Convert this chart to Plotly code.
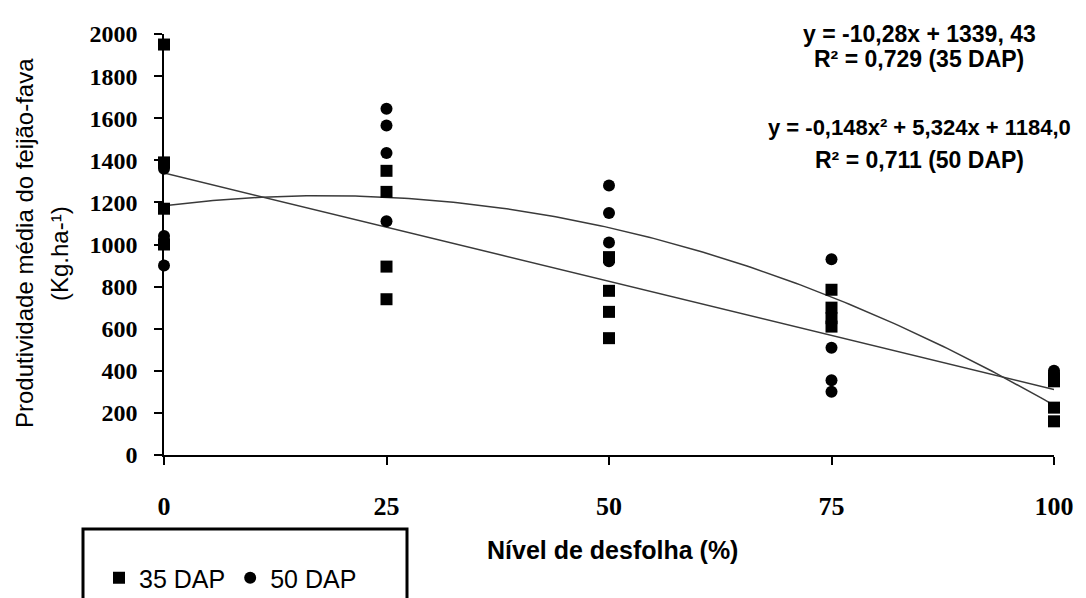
import numpy as np
import plotly.graph_objects as go

# ---- data ----
x_levels = [0, 25, 50, 75, 100]
dap35_x = [0, 0, 0, 0, 25, 25, 25, 25, 50, 50, 50, 50, 75, 75, 75, 75, 100, 100, 100, 100]
dap35_y = [1950, 1390, 1170, 1000, 1350, 1250, 895, 740, 940, 780, 680, 555, 785, 700, 650, 610, 360, 350, 225, 160]
dap50_x = [0, 0, 0, 0, 25, 25, 25, 25, 50, 50, 50, 50, 75, 75, 75, 75, 100, 100, 100, 100]
dap50_y = [1360, 1040, 1020, 900, 1645, 1565, 1435, 1110, 1280, 1150, 1010, 920, 930, 510, 355, 300, 400, 390, 380, 370]

# printed trendline coefficients
lin35 = [-10.28, 1339.43]          # y = a x + b
quad50 = [-0.148, 5.324, 1184.0]   # y = a x^2 + b x + c

y_ticks = [0, 200, 400, 600, 800, 1000, 1200, 1400, 1600, 1800, 2000]
x_ticks = [0, 25, 50, 75, 100]

eq35 = ["y = -10,28x + 1339, 43", "R² = 0,729 (35 DAP)"]
eq50 = ["y = -0,148x² + 5,324x + 1184,0", "R² = 0,711 (50 DAP)"]

xf = np.linspace(0, 100, 201)

fig = go.Figure()
fig.add_trace(go.Scatter(x=xf, y=np.polyval(lin35, xf), mode="lines",
                         line=dict(color="#3a3a3a", width=1.5), showlegend=False, hoverinfo="skip"))
fig.add_trace(go.Scatter(x=xf, y=np.polyval(quad50, xf), mode="lines",
                         line=dict(color="#3a3a3a", width=1.5), showlegend=False, hoverinfo="skip"))
fig.add_trace(go.Scatter(x=dap35_x, y=dap35_y, mode="markers", name="35 DAP",
                         marker=dict(symbol="square", size=12, color="black"), cliponaxis=False))
fig.add_trace(go.Scatter(x=dap50_x, y=dap50_y, mode="markers", name="50 DAP",
                         marker=dict(symbol="circle", size=12, color="black"), cliponaxis=False))

# page body has an 8px margin: figure is offset by (8, 8) in the window
OFF = 8
W, H = 1086 - OFF, 598 - OFF
L, T = 164 - OFF, 34 - OFF
R = W - (1054 - OFF)
B = H - (455 - OFF)
pw, ph = W - L - R, H - T - B

def px(xp):  # window pixel x -> paper
    return (xp - OFF - L) / pw

def py(yp):  # window pixel y -> paper
    return (H - B - (yp - OFF)) / ph

ann = []
eqfont = dict(family="Liberation Sans", size=23, color="black", weight="bold")
for txt, yy, fs in [(eq35[0], 34, 23), (eq35[1], 59, 23), (eq50[0], 128, 22), (eq50[1], 160, 23)]:
    ann.append(dict(x=px(919), y=py(yy), xref="paper", yref="paper", text=txt, showarrow=False,
                    xanchor="center", yanchor="middle", font=dict(eqfont, size=fs)))
ann.append(dict(x=px(612), y=py(550), xref="paper", yref="paper", text="Nível de desfolha (%)",
                showarrow=False, xanchor="center", yanchor="middle",
                font=dict(family="Liberation Sans", size=25, color="black", weight="bold")))
ann.append(dict(x=px(24), y=py(243), xref="paper", yref="paper", text="Produtividade média do feijão-fava",
                showarrow=False, xanchor="center", yanchor="middle", textangle=-90,
                font=dict(family="Liberation Sans", size=24, color="black")))
ann.append(dict(x=px(60), y=py(254), xref="paper", yref="paper", text="(Kg.ha-¹)",
                showarrow=False, xanchor="center", yanchor="middle", textangle=-90,
                font=dict(family="Liberation Sans", size=24, color="black")))

fig.update_layout(
    width=W, height=H,
    margin=dict(l=L, r=R, t=T, b=B, pad=0, autoexpand=False),
    paper_bgcolor="white", plot_bgcolor="white",
    annotations=ann,
    shapes=[dict(type="rect", xref="paper", yref="paper", x0=px(83), x1=px(407), y0=py(529), y1=py(640),
                 line=dict(color="black", width=3))],
    legend=dict(orientation="h", xref="container", yref="container",
                x=(99 - OFF) / W, xanchor="left", y=1 - (578 - OFF) / H, yanchor="middle",
                font=dict(family="Liberation Sans", size=25, color="black"),
                bgcolor="rgba(0,0,0,0)", borderwidth=0, itemsizing="constant"),
    xaxis=dict(range=[0, 100], tickvals=x_ticks, ticktext=[str(v) for v in x_ticks],
               showgrid=False, zeroline=False, showline=True, linecolor="black", linewidth=1.5,
               ticks="outside", ticklen=8, tickwidth=1.5, tickcolor="black",
               tickfont=dict(family="Liberation Serif", size=26, color="black", weight="bold"),
               ticklabelstandoff=19),
    yaxis=dict(range=[0, 2000], tickvals=y_ticks, ticktext=[str(v) for v in y_ticks],
               showgrid=False, zeroline=False, showline=True, linecolor="black", linewidth=1.5,
               ticks="outside", ticklen=8, tickwidth=1.5, tickcolor="black",
               tickfont=dict(family="Liberation Serif", size=24, color="black", weight="bold"),
               ticklabelstandoff=12),
)

fig.write_html("out.html")
